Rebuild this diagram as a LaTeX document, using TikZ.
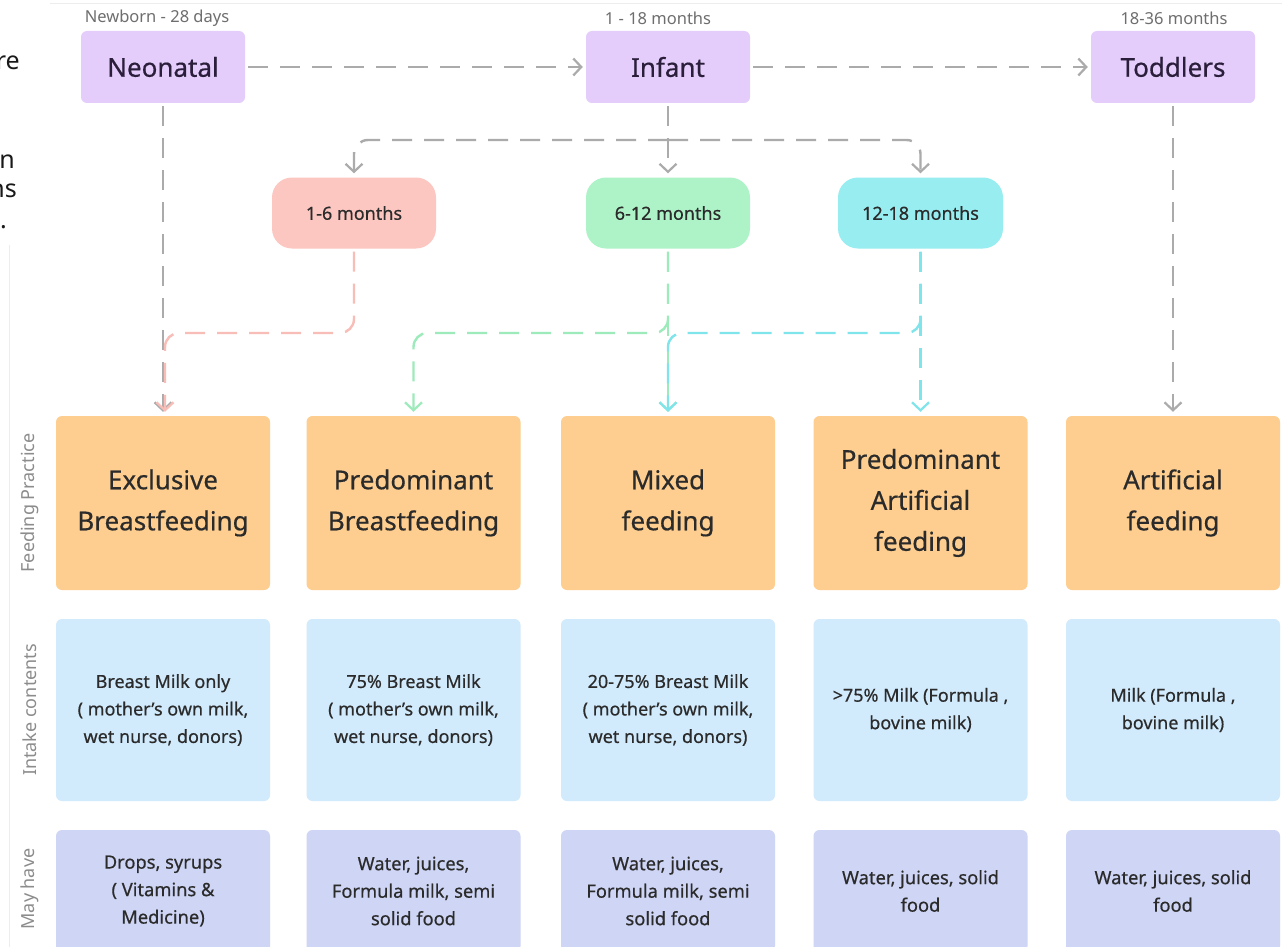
\documentclass[tikz,border=0pt]{standalone}
\usepackage{fontspec}
\setmainfont{Noto Sans}
\newfontfamily\medfont[FakeBold=0.5]{Noto Sans}
\usetikzlibrary{arrows.meta,calc}
\definecolor{topfill}{HTML}{E4CCFB}
\definecolor{pinkfill}{HTML}{FCC6C1}
\definecolor{greenfill}{HTML}{AEF3C8}
\definecolor{cyanfill}{HTML}{98EDF1}
\definecolor{orangefill}{HTML}{FDCE90}
\definecolor{bluefill}{HTML}{D1EAFC}
\definecolor{lavfill}{HTML}{CED5F5}
\definecolor{greyline}{HTML}{ABABAB}
\definecolor{pinkline}{HTML}{F9BDB7}
\definecolor{greenline}{HTML}{9DEBBB}
\definecolor{cyanline}{HTML}{80E4EB}
\definecolor{txt}{HTML}{2B2B2B}
\definecolor{toptxt}{HTML}{2A1E3A}
\definecolor{sidetxt}{HTML}{8C8C8C}
\definecolor{agetxt}{HTML}{6E6E6E}
\begin{document}
\begin{tikzpicture}[x=1pt,y=-1pt,
  stagebox/.style={rectangle, rounded corners=6, fill=topfill, minimum width=164, minimum height=72, inner sep=0, text=toptxt, font=\medfont\fontsize{26}{30}\selectfont},
  agebox/.style={rectangle, rounded corners=20, minimum width=164, minimum height=71, inner sep=0, text=txt, font=\medfont\fontsize{18}{20}\selectfont},
  practbox/.style={rectangle, rounded corners=6, fill=orangefill, minimum width=214, minimum height=174, inner sep=0, text=txt, align=center, font=\medfont\fontsize{26}{41}\selectfont},
  intakebox/.style={rectangle, rounded corners=6, fill=bluefill, minimum width=214, minimum height=182, inner sep=0, text=txt, align=center, font=\medfont\fontsize{18}{27.5}\selectfont},
  maybox/.style={rectangle, rounded corners=6, fill=lavfill, minimum width=214, minimum height=122, inner sep=0, text=txt, align=center, font=\medfont\fontsize{18.3}{27.5}\selectfont},
  sidelabel/.style={rotate=90, text=sidetxt, font=\fontsize{18}{20}\selectfont},
  agelabel/.style={text=agetxt, font=\fontsize{16.5}{20}\selectfont},
  edgetxt/.style={anchor=base east, inner sep=0, text=black!90, font=\fontsize{25}{30}\selectfont},
  conn/.style={line width=2.4, dash pattern=on 20 off 12, line cap=butt, -{Straight Barb[length=8,width=17,line width=2.2]}},
  gconn/.style={conn, draw=greyline},
  pconn/.style={conn, draw=pinkline},
  grconn/.style={conn, draw=greenline},
  cconn/.style={conn, draw=cyanline}
]
\clip (0,0) rectangle (1282,947);
\fill[white] (0,0) rectangle (1282,947);
% faint frame lines
\draw[black!7, line width=1] (50,4) -- (1282,4);
\draw[black!7, line width=1] (9,245) -- (9,947);
% cut-off text at the left edge
\node[edgetxt] (e1) at (20,70) {re};
\node[edgetxt] (e2) at (15,168) {n};
\node[edgetxt] (e3) at (17,197) {ns};
\node[edgetxt] (e4) at (7,228) {.};
% stages
\node[stagebox] (neo) at (163,67) {Neonatal};
\node[stagebox] (inf) at (668,67) {Infant};
\node[stagebox] (tod) at (1173,67) {Toddlers};
\node[agelabel] (aneo) at (157,18) {Newborn - 28 days};
\node[agelabel] (ainf) at (658,18) {1 - 18 months};
\node[agelabel] (atod) at (1174,18) {18-36 months};
% month boxes
\node[agebox, fill=pinkfill] (m16) at (354,213) {1-6 months};
\node[agebox, fill=greenfill] (m612) at (668,213) {6-12 months};
\node[agebox, fill=cyanfill, minimum width=165] (m1218) at (920.5,213) {12-18 months};
% row 1
\node[practbox] (p1) at (163,503) {Exclusive\\Breastfeeding};
\node[practbox] (p2) at (413.5,503) {Predominant\\Breastfeeding};
\node[practbox] (p3) at (668,503) {Mixed\\feeding};
\node[practbox] (p4) at (920.5,503) {Predominant\\Artificial\\feeding};
\node[practbox] (p5) at (1173,503) {Artificial\\feeding};
% row 2
\node[intakebox] (i1) at (163,710) {Breast Milk only\\( mother’s own milk,\\wet nurse, donors)};
\node[intakebox] (i2) at (413.5,710) {75\% Breast Milk\\( mother’s own milk,\\wet nurse, donors)};
\node[intakebox] (i3) at (668,710) {20-75\% Breast Milk\\( mother’s own milk,\\wet nurse, donors)};
\node[intakebox] (i4) at (920.5,710) {>75\% Milk (Formula ,\\bovine milk)};
\node[intakebox] (i5) at (1173,710) {Milk (Formula ,\\bovine milk)};
% row 3
\node[maybox] (y1) at (163,891) {Drops, syrups\\( Vitamins \&\\Medicine)};
\node[maybox] (y2) at (413.5,891) {Water, juices,\\Formula milk, semi\\solid food};
\node[maybox] (y3) at (668,891) {Water, juices,\\Formula milk, semi\\solid food};
\node[maybox] (y4) at (920.5,891) {Water, juices, solid\\food};
\node[maybox] (y5) at (1173,891) {Water, juices, solid\\food};
% side labels
\node[sidelabel] (s1) at (30,503) {Feeding Practice};
\node[sidelabel] (s2) at (30,710) {Intake contents};
\node[sidelabel] (s3) at (30,889) {May have};
% coordinates for the turns
\coordinate (jn) at (668,140);
\coordinate (pk) at (260,333);
\coordinate (gk) at (540,333);
\coordinate (ck) at (800,333);
% grey connectors
\draw[gconn, shorten <=3, shorten >=3] (neo) -- (inf);
\draw[gconn, shorten <=3, shorten >=3] (inf) -- (tod);
\draw[gconn, shorten <=3, shorten >=4] (neo.south) -- (p1.north);
\draw[gconn, shorten <=3, shorten >=4] (tod.south) -- (p5.north);
\draw[gconn, shorten <=3, shorten >=4] (inf.south) -- (m612.north);
\draw[gconn, rounded corners=14, shorten >=4] (jn) -| (m16.north);
\draw[gconn, rounded corners=14, shorten >=4] (jn) -| (m1218.north);
% coloured connectors
\draw[pconn, rounded corners=14, shorten <=3, shorten >=4] (m16.south) |- (pk) -| ($(p1.north)+(2,0)$);
\draw[grconn, shorten <=3, shorten >=4] (m612.south) -- (p3.north);
\draw[grconn, rounded corners=14, shorten <=3, shorten >=4] (m612.south) |- (gk) -| (p2.north);
\draw[cconn, shorten <=3, shorten >=4] (m1218.south) -- (p4.north);
\draw[cconn, rounded corners=14, shorten <=3, shorten >=4] (m1218.south) |- (ck) -| (p3.north);
\end{tikzpicture}
\end{document}
